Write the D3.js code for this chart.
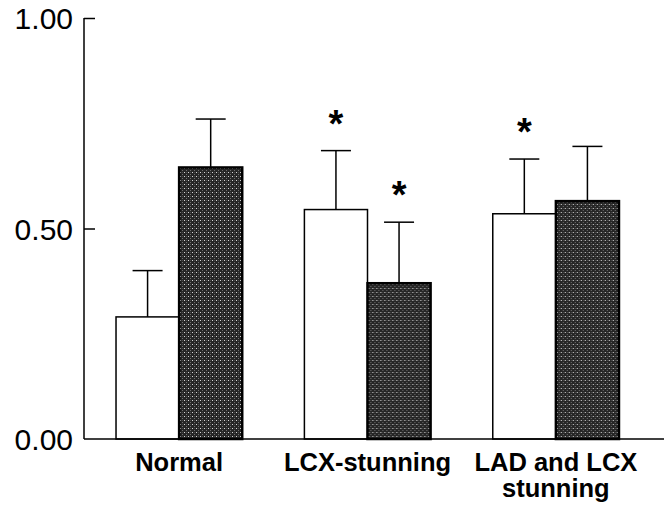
<!DOCTYPE html>
<html>
<head>
<meta charset="utf-8">
<script src="https://cdn.jsdelivr.net/npm/d3@7"></script>
<style>
  body { margin: 0; background: #fff; }
  text { font-family: "Liberation Sans", Arial, sans-serif; fill: #000; }
</style>
</head>
<body>
<svg id="chart" width="664" height="506"></svg>
<script>
// data
const groups = ["Normal", "LCX-stunning", "LAD and LCX stunning"];
const groupLines = [["Normal"], ["LCX-stunning"], ["LAD and LCX", "stunning"]];
const series = ["open", "filled"];
const openMean = [0.29, 0.545, 0.535];
const openErr = [0.11, 0.14, 0.13];
const filledMean = [0.645, 0.37, 0.565];
const filledErr = [0.115, 0.145, 0.13];
const openStar = [false, true, true];
const filledStar = [false, true, false];
const yTicks = [0, 0.5, 1];

const width = 664, height = 506;
const margin = { left: 84, top: 18, bottom: 67 };
const baseY = height - margin.bottom;

const svg = d3.select("#chart");

// stipple pattern for the dark bars
const pat = svg.append("defs").append("pattern")
  .attr("id", "stipple")
  .attr("width", 4).attr("height", 4)
  .attr("patternUnits", "userSpaceOnUse");
pat.append("rect").attr("width", 4).attr("height", 4).attr("fill", "#262626");
pat.append("rect").attr("x", 0).attr("y", 0).attr("width", 1).attr("height", 1).attr("fill", "#d8d8d8");
pat.append("rect").attr("x", 2).attr("y", 2).attr("width", 1).attr("height", 1).attr("fill", "#707070");
pat.append("rect").attr("x", 2).attr("y", 0).attr("width", 1).attr("height", 1).attr("fill", "#4a4a4a");

const y = d3.scaleLinear().domain([0, 1]).range([baseY, margin.top]);

const x0 = d3.scaleBand()
  .domain(groups)
  .range([margin.left, 651])
  .paddingInner(0.33)
  .paddingOuter(0.17);

const x1 = d3.scaleBand()
  .domain(series)
  .range([0, x0.bandwidth()])
  .padding(0);

const rows = groups.map((g, i) => ({
  group: g,
  bars: [
    { key: "open", mean: openMean[i], err: openErr[i], star: openStar[i] },
    { key: "filled", mean: filledMean[i], err: filledErr[i], star: filledStar[i] }
  ]
}));

// y axis
const yAxis = d3.axisLeft(y)
  .tickValues(yTicks)
  .tickSize(-11)
  .tickPadding(11)
  .tickFormat(d3.format(".2f"));

const ga = svg.append("g")
  .attr("transform", "translate(" + margin.left + ",0)")
  .call(yAxis);
ga.select(".domain").remove();
ga.selectAll("line").attr("stroke", "#000").attr("stroke-width", 1.5);
ga.selectAll(".tick").filter(d => d === 0).select("line").remove();
ga.selectAll("text")
  .style("font-family", "'Liberation Sans', Arial, sans-serif")
  .style("font-size", "30px")
  .attr("dy", "0.36em");

svg.append("line")
  .attr("x1", margin.left).attr("x2", margin.left)
  .attr("y1", y(1)).attr("y2", baseY)
  .attr("stroke", "#000").attr("stroke-width", 1.5);

// bars
const gg = svg.append("g").selectAll("g")
  .data(rows)
  .enter()
  .append("g")
  .attr("transform", d => "translate(" + x0(d.group) + ",0)");

const bar = gg.selectAll("g.bar")
  .data(d => d.bars)
  .enter()
  .append("g")
  .classed("bar", true);

bar.append("rect")
  .attr("x", d => x1(d.key))
  .attr("y", d => y(d.mean))
  .attr("width", x1.bandwidth())
  .attr("height", d => baseY - y(d.mean))
  .attr("fill", d => d.key === "open" ? "#fff" : "url(#stipple)")
  .attr("stroke", "#000")
  .attr("stroke-width", d => d.key === "open" ? 1.5 : 2.5);

// upper error whisker
bar.append("line")
  .attr("x1", d => x1(d.key) + x1.bandwidth() / 2)
  .attr("x2", d => x1(d.key) + x1.bandwidth() / 2)
  .attr("y1", d => y(d.mean))
  .attr("y2", d => y(d.mean + d.err))
  .attr("stroke", "#000").attr("stroke-width", 1.5);

bar.append("line")
  .attr("x1", d => x1(d.key) + x1.bandwidth() / 2 - 15)
  .attr("x2", d => x1(d.key) + x1.bandwidth() / 2 + 15)
  .attr("y1", d => y(d.mean + d.err))
  .attr("y2", d => y(d.mean + d.err))
  .attr("stroke", "#000").attr("stroke-width", 1.5);

// significance stars
bar.filter(d => d.star)
  .append("text")
  .attr("x", d => x1(d.key) + x1.bandwidth() / 2)
  .attr("y", d => y(d.mean + d.err) - 14)
  .attr("text-anchor", "middle")
  .style("font-size", "38px")
  .style("font-weight", "bold")
  .text("*");

// baseline
svg.append("line")
  .attr("x1", margin.left).attr("x2", width)
  .attr("y1", baseY).attr("y2", baseY)
  .attr("stroke", "#000").attr("stroke-width", 1.5);

// category labels
const lab = svg.append("g").selectAll("text")
  .data(groups)
  .enter()
  .append("text")
  .attr("x", d => x0(d) + x0.bandwidth() / 2)
  .attr("y", baseY + 32)
  .attr("text-anchor", "middle")
  .style("font-size", "25.5px")
  .style("font-weight", "bold");

lab.selectAll("tspan")
  .data((d, i) => groupLines[i])
  .enter()
  .append("tspan")
  .attr("x", function () { return this.parentNode.getAttribute("x"); })
  .attr("dy", (d, i) => i === 0 ? 0 : 26)
  .text(d => d);
</script>
</body>
</html>
